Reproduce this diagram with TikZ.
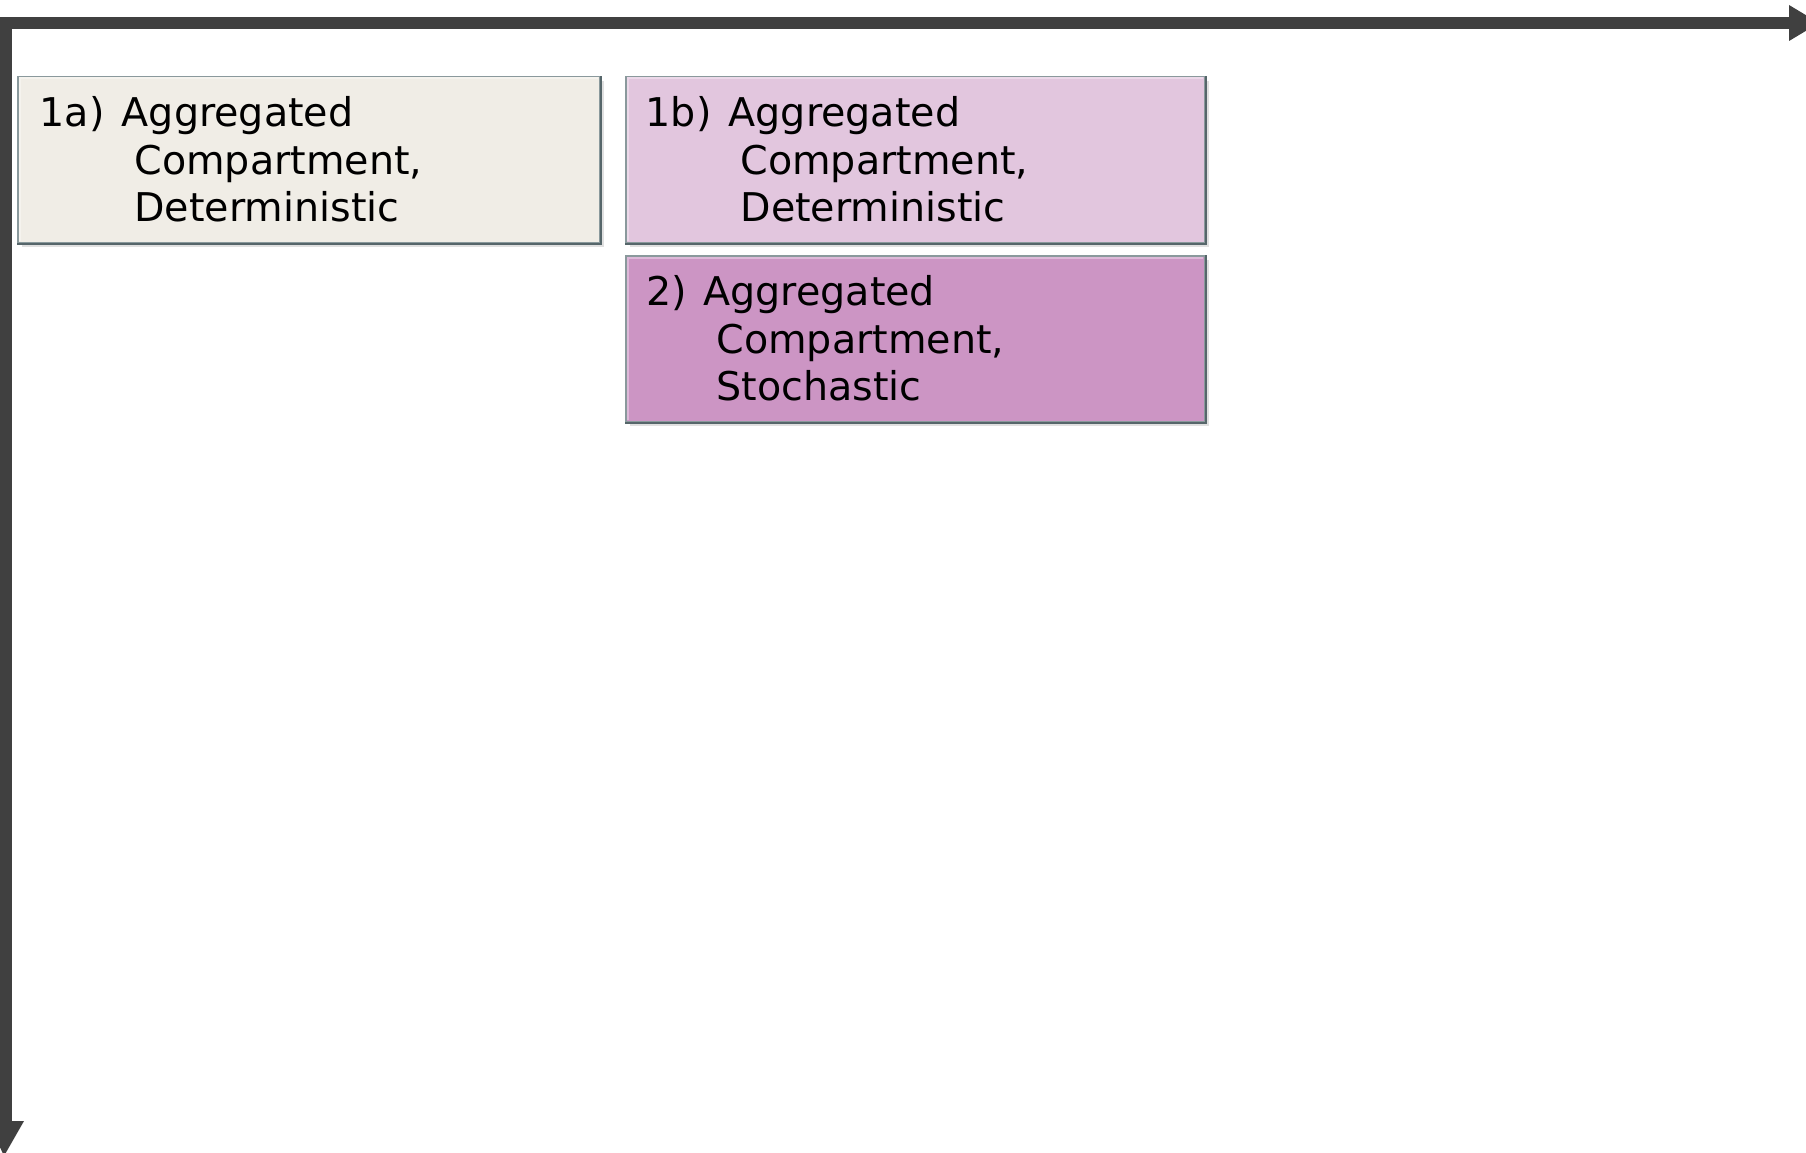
\documentclass[tikz,border=0pt]{standalone}
\usepackage{fontspec}
\setmainfont{DejaVu Sans}
\usetikzlibrary{shadows}
\definecolor{axisgrey}{HTML}{404040}
\definecolor{boxedge}{HTML}{8A999C}
\definecolor{boxdark}{HTML}{56666A}
\definecolor{fillA}{HTML}{F0EDE6}
\definecolor{fillB}{HTML}{E2C6DE}
\definecolor{fillC}{HTML}{CC95C4}
\begin{document}
\begin{tikzpicture}[x=1pt,y=-1pt,
  axisline/.style={draw=axisgrey,line width=12pt,line join=miter},
  axishead/.style={fill=axisgrey},
  panel/.style={rectangle,draw=boxedge,line width=1.5pt,anchor=north west,
    minimum width=582pt,minimum height=166pt,inner sep=0pt,
    drop shadow={shadow xshift=4pt,shadow yshift=-4pt,opacity=0.12,fill=black},
    drop shadow={shadow xshift=2.5pt,shadow yshift=-2.5pt,opacity=0.25,fill=black}},
  hilite/.style={draw=white,opacity=0.35,line width=2pt},
  lowlite/.style={draw=boxdark,line width=2pt},
  label/.style={anchor=base west,inner sep=0pt,text=black,
    font=\fontsize{39.6pt}{47.5pt}\selectfont}]
\useasboundingbox (0,0) rectangle (1806,1153);
\fill[white] (0,0) rectangle (1806,1153);

% axes
\coordinate (origin) at (6,23);
\coordinate (xend) at (1789,23);
\coordinate (yend) at (6,1121);
\draw[axisline] (yend) -- (origin) -- (xend);
\fill[axishead] (xend) ++(0,-18) -- ++(30,18) -- ++(-30,18) -- cycle;
\fill[axishead] (yend) ++(-18,0) -- ++(36,0) -- ++(-20,35) -- cycle;

% panels
\node[panel,fill=fillA] (pa) at (17,76) {};
\node[panel,fill=fillB,minimum width=579pt] (pb) at (625,76) {};
\node[panel,fill=fillC,minimum width=579pt] (pc) at (625,255) {};

% bevelled edges: light on top and left, dark on bottom and right
\foreach \p in {pa,pb,pc}{
  \draw[hilite] ([xshift=2.5pt,yshift=2.5pt]\p.south west)
    -- ([xshift=2.5pt,yshift=-2.5pt]\p.north west)
    -- ([xshift=-2.5pt,yshift=-2.5pt]\p.north east);
  \draw[lowlite] (\p.south west) -- (\p.south east) -- (\p.north east);
}

% panel texts
\node[label] (pa1) at (39.5,126.7) {1a)\hspace{4.6pt} Aggregated};
\node[label] (pa2) at (134.3,174.2) {Compartment,};
\node[label] (pa3) at (134.3,221.7) {Deterministic};

\node[label] (pb1) at (645.5,126.7) {1b)\hspace{4.6pt} Aggregated};
\node[label] (pb2) at (740.3,174.2) {Compartment,};
\node[label] (pb3) at (740.3,221.7) {Deterministic};

\node[label] (pc1) at (646.5,305.7) {2)\hspace{3.5pt} Aggregated};
\node[label] (pc2) at (716.3,353.2) {Compartment,};
\node[label] (pc3) at (716.3,400.7) {Stochastic};
\end{tikzpicture}
\end{document}
